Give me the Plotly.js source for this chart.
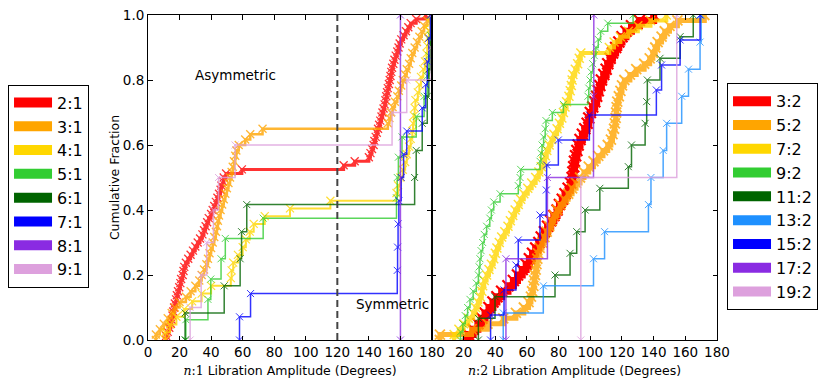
<!DOCTYPE html>
<html><head><meta charset="utf-8">
<script src="https://cdn.plot.ly/plotly-3.0.1.min.js"></script>
<style>html,body{margin:0;padding:0;background:#fff}</style>
</head><body><div id="chart" style="width:831px;height:388px"></div>
<script>
// ---- data: libration amplitudes (degrees), sorted, per resonance ----
const leftNames  = ['2:1','3:1','4:1','5:1','6:1','7:1','8:1','9:1'];
const rightNames = ['3:2','5:2','7:2','9:2','11:2','13:2','15:2','17:2','19:2'];

const amp_2_1 = [11.5,12.5,13.5,14.5,15,15.5,16,16.5,17,17.8,18.3,19,19.8,20.5,21,22,22.5,23,24,25.5,27,28.5,30,31.5,33,34.5,35.5,36.5,37.5,38.5,40,41,42,43,44,45,46,46.5,47.5,48,49.5,59.5,124,131,140,141,142,143,143.5,144.3,145,145.8,146.5,147.2,148,148.6,149.3,150,150.5,151,151.5,152,152.7,153.2,153.7,154.2,154.7,155.5,156.2,157,158,158.8,159.5,160.5,162,163.5,165,166.5,170,176];
const amp_3_1 = [5,7.5,10,12.5,15,17,20,24,27,30,32.5,34,35.5,37,38,39,40,41,42,43,43.7,44.3,45,46,47,48,49,50,51,52,53,53.7,54.5,55.3,56,57.5,61.6,64.8,72.6,152,153,154,155,156.5,158,159,160.5,161.5,163,164,165.5,166.5,167.5,169,170.5,172,173.5,175,177,179];
const amp_4_1 = [11,14,18,23,28,34,40,52.5,53,54,57,60,62,64.5,67,74,90,115.6,157.5,158.5,160,161.5,163,164,165.5,166.5,167.5,168,168.5,169,169.5,171,172,173,174.5,175.5,176.5,177,177.5,178,179,179.5];
const amp_5_1 = [24,38,39.8,46.3,49,73,157.5,158,158.7,161,170,175,177,178,179,179.5];
const amp_6_1 = [23.5,48.3,58.4,59.3,62.6,169,170,173.8,177,178,179,179.5];
const amp_7_1 = [58,65,158,158.2,158.5,159,160.5,162,164,173.8,176,177,178,179];
const amp_8_1 = [160];
const amp_9_1 = [26.7,33.7,37.2,41.5,44.7,55.2,154.7,164,179.5,179.8];

const amp_3_2 = [23,26,29,31.5,33.5,36,38.5,41,44,48,51.4,54,57,59.5,61.5,63.5,65.5,67.5,69,71,73,75,77,79,80.5,82.3,84,86,87.5,88.5,89,89.5,90,90.7,91.5,92.3,93.5,95,96.5,98,99,100,101.5,102.8,104,105,106,107,108.5,110,111,112.5,114,116,118,120,122.5,126,131,140];
const amp_5_2 = [5,25,35,45,53,58,61,62.5,63.2,64,64.5,65,65.5,66,66.5,67,68,69.5,71,72.5,74,75.5,77,79,81,83.5,86,88.5,91,93.5,96,99,102,105,108,111,113,114,115,115.5,116,116.3,116.6,117,118,119,120,121.5,125,129,134,137.5,139.5,141,142.5,145,147,150,155,172];
const amp_7_2 = [14,17,20,23,26,27.5,29,30.5,31.5,32,33,34.5,36,37.5,39,40,41,42.5,44,46,48,49.5,51,52.5,54.5,56,58,60.5,63,65.5,67.5,69,70.5,71.5,72.5,74,75.5,77,79,80.5,82,83,84,85,86.5,87.3,88,88.5,89,90.5,92,93,94,112,115,119,124,130,138,148];
const amp_9_2 = [18,19.5,21,22.5,24,26,28,29.3,29.8,30.3,31,32,33,34.5,36.5,37.5,39,43,54.5,55.6,56,68.2,68.8,69.5,70.5,71.5,72,76,83,98.5,99,99.8,100.5,101.5,102.5,103.5,105,106.5,111,127];
const amp_11_2 = [29.3,39.8,77.7,87.2,91.4,96.7,106,124,126,134.6,135.6,136,144,156.7,165];
const amp_13_2 = [45,70.3,102,109,136.7,138.3,146,148.2,157.7,162,169.3,170];
const amp_15_2 = [37,45.5,53,54.5,68.2,72.2,72.4,79.8,99.4,141.7,145,156.7,169.3];
const amp_17_2 = [46.7,72.9,102,102.2];
const amp_19_2 = [94,154.6];

const xTicksLeft  = [0,20,40,60,80,100,120,140,160,180];
const xTicksRight = [20,40,60,80,100,120,140,160,180];
const yTicks = [0,0.2,0.4,0.6,0.8,1.0];
const yTickText = ['0.0','0.2','0.4','0.6','0.8','1.0'];

// ---- styles ----
const leftColors  = ['#ff0000','#ffa500','#ffd700','#32cd32','#006400','#0000ff','#8a2be2','#dda0dd'];
const rightColors = ['#ff0000','#ffa500','#ffd700','#32cd32','#006400','#1e90ff','#0000ff','#8a2be2','#dda0dd'];
const leftData  = [amp_2_1,amp_3_1,amp_4_1,amp_5_1,amp_6_1,amp_7_1,amp_8_1,amp_9_1];
const rightData = [amp_3_2,amp_5_2,amp_7_2,amp_9_2,amp_11_2,amp_13_2,amp_15_2,amp_17_2,amp_19_2];
const leftStyle  = [{lw:3,ms:8,mw:1.3},{lw:2.5,ms:8,mw:1.3},{lw:2,ms:8,mw:1.2},{},{},{},{},{}];
const rightStyle = [{lw:7,ms:11,mw:2.2,op:1},{lw:5,ms:10,mw:1.8},{lw:4,ms:9,mw:1.5},{},{},{},{},{},{}];

function stepTrace(vals, name, color, xa, ya, st) {
  const n = vals.length;
  const xs = [vals[0]], ys = [0];
  vals.forEach((v, i) => { xs.push(v); ys.push((i + 1) / n); });
  return {
    type: 'scatter', mode: 'lines+markers', x: xs, y: ys, name: name,
    xaxis: xa, yaxis: ya, showlegend: false, hoverinfo: 'skip',
    opacity: st.op !== undefined ? st.op : 0.8,
    line: {shape: 'hv', color: color, width: st.lw || 1.5},
    marker: {symbol: 'x-thin', size: st.ms || 7, color: color, line: {color: color, width: st.mw || 1}},
    cliponaxis: true
  };
}
function legendProxy(name, color, xa, ya, leg) {
  return {type:'scatter', mode:'lines', x:[null], y:[null], name:name, xaxis:xa, yaxis:ya,
          legend:leg, showlegend:true, hoverinfo:'skip', line:{color:color, width:10}};
}

const traces = [];
leftData.forEach((d, i) => traces.push(stepTrace(d, leftNames[i], leftColors[i], 'x', 'y', leftStyle[i])));
rightData.forEach((d, i) => traces.push(stepTrace(d, rightNames[i], rightColors[i], 'x2', 'y2', rightStyle[i])));
leftNames.forEach((nm, i) => traces.push(legendProxy(nm, leftColors[i], 'x', 'y', 'legend')));
rightNames.forEach((nm, i) => traces.push(legendProxy(nm, rightColors[i], 'x2', 'y2', 'legend2')));

const tickFont = {family:'DejaVu Sans', size:13.5, color:'#000'};
const axisCommon = {showline:true, linecolor:'#000', linewidth:1, mirror:'ticks', ticks:'inside',
  ticklen:4.5, tickwidth:1, tickcolor:'#000', showgrid:false, zeroline:false, fixedrange:true, tickfont:tickFont};
const serifN = (k) => `<span style="font-family:'DejaVu Serif'"><i>n</i>:${k}</span> Libration Amplitude (Degrees)`;

const legendCommon = {xanchor:'left', yanchor:'top', bgcolor:'#fff', bordercolor:'#000', borderwidth:1,
  font:{family:'DejaVu Sans', size:16, color:'#000'}, tracegroupgap:0, itemwidth:38};

const layout = {
  width:831, height:388, margin:{l:148, r:114, t:15, b:48, autoexpand:false},
  paper_bgcolor:'#fff', plot_bgcolor:'#fff',
  font:{family:'DejaVu Sans', size:12, color:'#000'},
  xaxis: Object.assign({}, axisCommon, {domain:[0,0.4991], range:[0,180], tickvals:xTicksLeft, anchor:'y',
    title:{text:serifN(1), font:{size:12.5}, standoff:7}}),
  xaxis2: Object.assign({}, axisCommon, {domain:[0.4991,1], range:[0,180], tickvals:xTicksRight, anchor:'y2',
    title:{text:serifN(2), font:{size:12.5}, standoff:7}}),
  yaxis: Object.assign({}, axisCommon, {domain:[0,1], range:[0,1], tickvals:yTicks, ticktext:yTickText, anchor:'x',
    title:{text:'Cumulative Fraction', font:{size:12.5}, standoff:0}}),
  yaxis2: Object.assign({}, axisCommon, {domain:[0,1], range:[0,1], tickvals:yTicks, anchor:'x2', showticklabels:false}),
  legend: Object.assign({}, legendCommon, {x:-0.246, y:0.786}),
  legend2: Object.assign({}, legendCommon, {x:1.0176, y:0.79}),
  shapes: [{type:'line', xref:'x', yref:'y', x0:120, x1:120, y0:0, y1:1,
    line:{color:'#444', width:2, dash:'7px,4px'}}],
  annotations: [
    {xref:'x', yref:'y', x:55.2, y:0.814, text:'Asymmetric', showarrow:false, font:{family:'DejaVu Sans', size:13.5, color:'#000'}},
    {xref:'x', yref:'y', x:155.2, y:0.11, text:'Symmetric', showarrow:false, font:{family:'DejaVu Sans', size:13.5, color:'#000'}}
  ]
};
Plotly.newPlot('chart', traces, layout, {staticPlot:true, displayModeBar:false});
</script></body></html>
